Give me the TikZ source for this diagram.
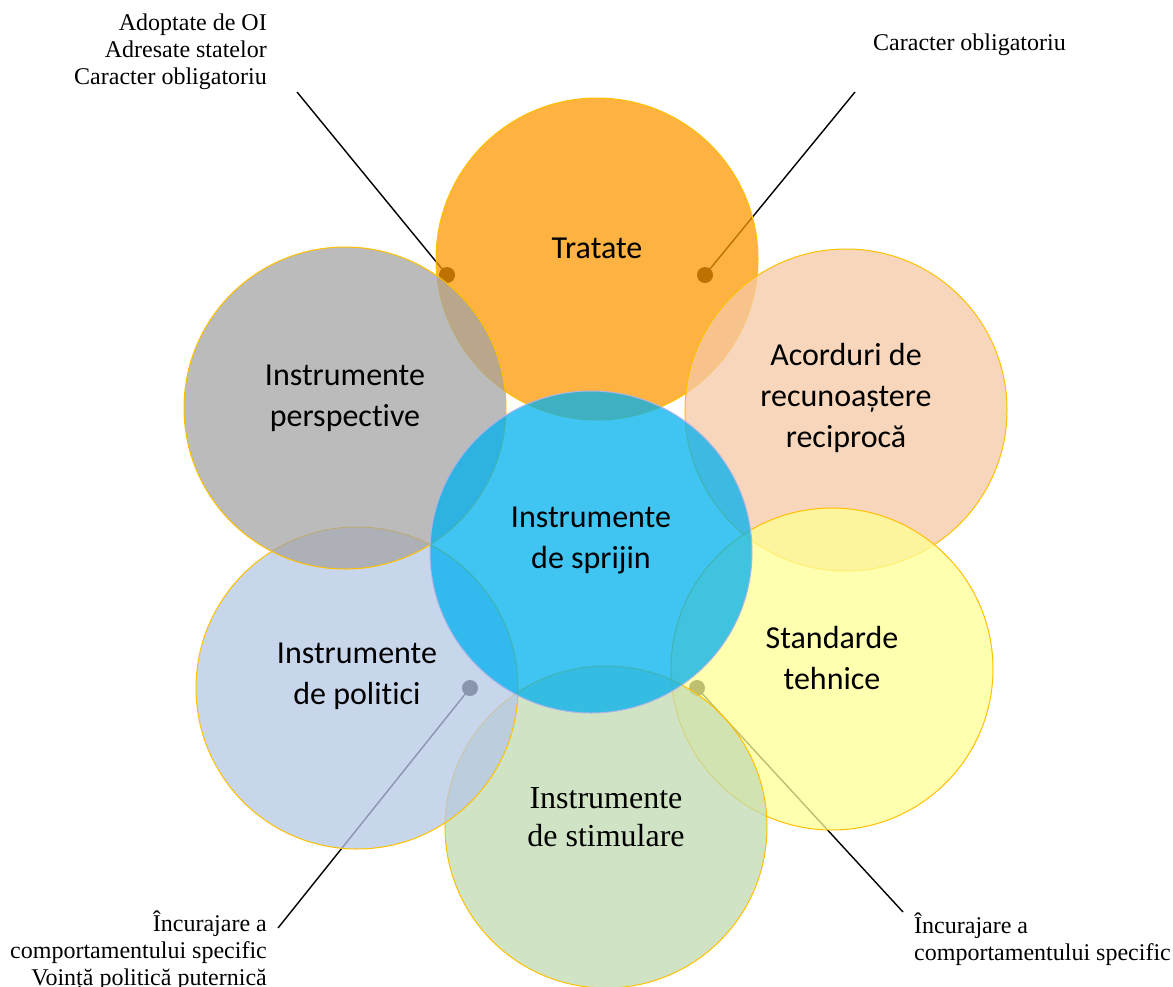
\documentclass[tikz,border=0pt]{standalone}
\usepackage{fontspec}
\setmainfont{Liberation Serif}
\newfontfamily\calfont[Ligatures=NoCommon]{Carlito}
\definecolor{cTratate}{RGB}{252,152,2}
\definecolor{cAcord}{RGB}{246,200,164}
\definecolor{cStand}{RGB}{255,255,150}
\definecolor{cStim}{RGB}{194,218,178}
\definecolor{cPol}{RGB}{182,200,230}
\definecolor{cPersp}{RGB}{164,164,164}
\definecolor{cSpr}{RGB}{0,176,238}
\definecolor{gold}{RGB}{255,192,0}
\definecolor{sprEdge}{RGB}{170,180,230}
\tikzset{
  venn/.style={circle, minimum size=322pt, inner sep=0pt, fill opacity=0.75, draw=gold, line width=1pt},
  lbl/.style={font=\calfont\fontsize{32}{41}\selectfont, align=center, text=black},
  lblserif/.style={font=\fontsize{32}{38}\selectfont, align=center, text=black},
  note/.style={font=\fontsize{24}{27}\selectfont, inner sep=0pt, text=black},
  calldot/.style={circle, fill=black, minimum size=16pt, inner sep=0pt},
  callline/.style={draw=black, line width=1.4pt}
}
\begin{document}
\begin{tikzpicture}[x=1pt,y=-1pt]
\useasboundingbox (0,0) rectangle (1173,986);
% callout end points and dots (drawn beneath the circles)
\coordinate (e1) at (297,92);
\coordinate (e2) at (855,92);
\coordinate (e3) at (278,928);
\coordinate (e4) at (903,912);
\node[calldot] (d1) at (447,275) {};
\node[calldot] (d2) at (705,275) {};
\node[calldot] (d3) at (470,688) {};
\node[calldot] (d4) at (697,688) {};
\draw[callline] (e1) -- (d1.center);
\draw[callline] (e2) -- (d2.center);
\draw[callline] (e3) -- (d3.center);
\draw[callline] (e4) -- (d4.center);
% circles
\node[venn, fill=cTratate] (tr) at (597,259) {};
\node[venn, fill=cAcord] (ac) at (846,410) {};
\node[venn, fill=cStand] (st) at (832,669) {};
\node[venn, fill=cStim] (sm) at (606,827) {};
\node[venn, fill=cPol] (po) at (357,688) {};
\node[venn, fill=cPersp] (pe) at (345,408) {};
\node[venn, fill=cSpr, draw=sprEdge] (sp) at (591,552) {};
% labels
\node[lbl] (ltr) at (597,248) {Tratate};
\node[lbl] (lac) at (846,398) {Acorduri de\\recunoaștere\\reciprocă};
\node[lbl] (lst) at (832,658) {Standarde\\tehnice};
\node[lblserif] (lsm) at (606,817) {Instrumente\\de stimulare};
\node[lbl] (lpo) at (357,676) {Instrumente\\de politici};
\node[lbl] (lpe) at (345,398) {Instrumente\\perspective};
\node[lbl] (lsp) at (591,540) {Instrumente\\de sprijin};
% notes
\node[note, align=right, anchor=base east] (n1) at (267,84) {Adoptate de OI\\Adresate statelor\\Caracter obligatoriu};
\node[note, align=left, anchor=base west] (n2) at (873,50) {Caracter obligatoriu};
\node[note, align=right, anchor=base east] (n3) at (267,985) {Încurajare a\\comportamentului specific\\Voință politică puternică};
\node[note, align=left, anchor=base west] (n4) at (914,960) {Încurajare a\\comportamentului specific};
\end{tikzpicture}
\end{document}
